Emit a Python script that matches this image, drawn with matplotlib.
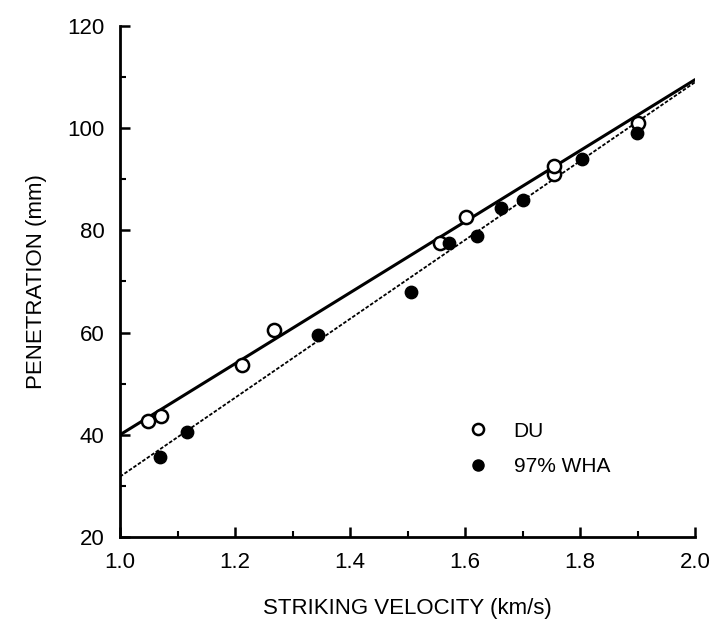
"""Penetration vs striking velocity — DU and 97% WHA rods, with linear fits."""

import matplotlib
matplotlib.use("Agg")
import matplotlib.pyplot as plt
from matplotlib.ticker import MultipleLocator
from matplotlib.lines import Line2D

# ── data ────────────────────────────────────────────────────────────────────────
du_vel = [1.049, 1.072, 1.213, 1.268, 1.557, 1.601, 1.754, 1.755, 1.900]
du_pen = [42.6, 43.7, 53.7, 60.5, 77.5, 82.6, 91.0, 92.6, 101.0]

wha_vel = [1.070, 1.116, 1.345, 1.506, 1.573, 1.620, 1.663, 1.701, 1.803, 1.899]
wha_pen = [35.7, 40.5, 59.5, 68.0, 77.6, 78.9, 84.3, 86.0, 93.9, 99.1]

# fitted lines (end points)
du_fit_x = [1.0, 2.0]
du_fit_y = [40.0, 109.5]
wha_fit_x = [1.0, 2.0]
wha_fit_y = [31.8, 109.0]

plt.rcParams["font.family"] = ["Liberation Sans", "DejaVu Sans"]

fig = plt.figure(figsize=(7.13, 6.22), dpi=100)
ax = fig.add_axes([0.1683, 0.1367, 0.8065, 0.8215])

ax.plot(du_fit_x, du_fit_y, color="black", lw=2.2, solid_capstyle="round", zorder=2)
ax.plot(wha_fit_x, wha_fit_y, color="black", lw=1.3, ls=(0, (2, 1)), zorder=2)

ax.scatter(du_vel, du_pen, s=90, facecolors="white", edgecolors="black",
           linewidths=1.8, zorder=3, clip_on=False)
ax.scatter(wha_vel, wha_pen, s=80, color="black", zorder=3, clip_on=False)

ax.set_xlim(1.0, 2.0)
ax.set_ylim(20, 120)
ax.xaxis.set_major_locator(MultipleLocator(0.2))
ax.xaxis.set_minor_locator(MultipleLocator(0.1))
ax.yaxis.set_major_locator(MultipleLocator(20))
ax.yaxis.set_minor_locator(MultipleLocator(10))
ax.xaxis.set_major_formatter(plt.FuncFormatter(lambda v, p: f"{v:.1f}"))

for s in ("top", "right"):
    ax.spines[s].set_visible(False)
for s in ("left", "bottom"):
    ax.spines[s].set_linewidth(2)

ax.tick_params(which="major", direction="in", length=7, width=1.8,
               labelsize=16, pad=11)
ax.tick_params(which="minor", direction="in", length=4, width=1.5)

ax.set_xlabel("STRIKING VELOCITY (km/s)", fontsize=16, labelpad=18)
ax.set_ylabel("PENETRATION (mm)", fontsize=16, labelpad=15)

# legend, drawn as in the original (markers + plain text, no frame)
handles = [
    Line2D([], [], ls="none", marker="o", ms=8, mfc="white", mec="black", mew=1.8),
    Line2D([], [], ls="none", marker="o", ms=8, color="black"),
]
ax.legend(handles, ["DU", "97% WHA"], loc="center left", bbox_to_anchor=(0.605, 0.172),
          frameon=False, fontsize=15, handletextpad=1.2, labelspacing=0.8,
          handlelength=1.0, borderpad=0, borderaxespad=0)

fig.savefig("out.png", dpi=100)
